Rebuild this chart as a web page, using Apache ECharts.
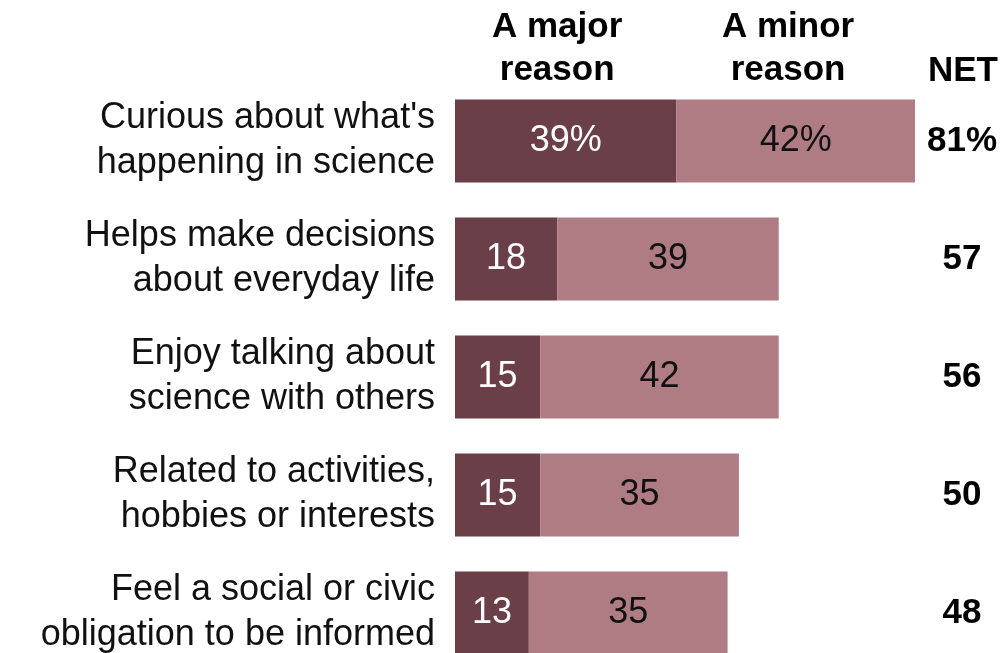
<!DOCTYPE html>
<html>
<head>
<meta charset="utf-8">
<script src="https://cdn.jsdelivr.net/npm/echarts@6/dist/echarts.min.js"></script>
<style>
  html, body { margin: 0; padding: 0; background: #fff; }
  #chart { width: 1005px; height: 653px; }
</style>
</head>
<body>
<div id="chart"></div>
<script>
// reasons people follow science news
var categories = [
  "Curious about what's\nhappening in science",
  'Helps make decisions\nabout everyday life',
  'Enjoy talking about\nscience with others',
  'Related to activities,\nhobbies or interests',
  'Feel a social or civic\nobligation to be informed'
];
var majorReason = [39, 18, 15, 15, 13];
var minorReason = [42, 39, 42, 35, 35];
var netValues = ['81%', '57', '56', '50', '48'];

var FONT = "'Liberation Sans', Arial, sans-serif";
var DARK = '#6b3f47';
var LIGHT = '#b07c84';

var chart = echarts.init(document.getElementById('chart'));

function pctLabel(color) {
  return {
    show: true,
    position: 'inside',
    color: color,
    fontFamily: FONT,
    fontSize: 36,
    formatter: function (p) {
      return p.dataIndex === 0 ? p.value + '%' : p.value;
    }
  };
}

var option = {
  animation: false,
  backgroundColor: '#fff',
  grid: { left: 455, right: 90, top: 82, height: 590, outerBoundsMode: 'none', containLabel: false },
  xAxis: {
    type: 'value',
    min: 0,
    max: 81,
    show: false
  },
  yAxis: [{
    type: 'category',
    data: categories,
    inverse: true,
    axisLine: { show: false },
    axisTick: { show: false },
    axisLabel: {
      margin: 20,
      color: '#111',
      fontFamily: FONT,
      fontSize: 36,
      lineHeight: 45,
      align: 'right'
    }
  }, {
    type: 'category',
    data: netValues,
    inverse: true,
    position: 'right',
    axisLine: { show: false },
    axisTick: { show: false },
    axisLabel: {
      margin: 47,
      color: '#000',
      fontFamily: FONT,
      fontWeight: 'bold',
      fontSize: 35,
      align: 'center'
    }
  }],
  graphic: [
    { type: 'text', left: 492, top: 6, style: { text: 'A major\nreason', font: 'bold 35px ' + FONT, lineHeight: 43, fill: '#000', textAlign: 'center' } },
    { type: 'text', left: 722, top: 6, style: { text: 'A minor\nreason', font: 'bold 35px ' + FONT, lineHeight: 43, fill: '#000', textAlign: 'center' } },
    { type: 'text', left: 928, top: 54, style: { text: 'NET', font: 'bold 35px ' + FONT, fill: '#000' } }
  ],
  series: [{
    name: 'A major reason',
    type: 'bar',
    stack: 'total',
    data: majorReason,
    barWidth: 83,
    itemStyle: { color: DARK },
    label: pctLabel('#fff')
  }, {
    name: 'A minor reason',
    type: 'bar',
    stack: 'total',
    data: minorReason,
    barWidth: 83,
    itemStyle: { color: LIGHT },
    label: pctLabel('#111')
  }]
};

chart.setOption(option);
</script>
</body>
</html>
